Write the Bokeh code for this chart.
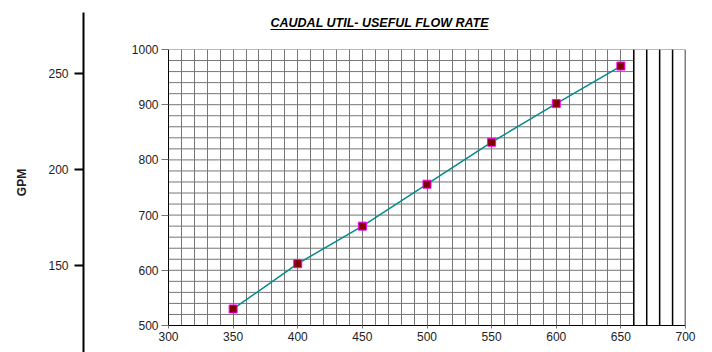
from bokeh.plotting import figure
from bokeh.models import Range1d, LinearAxis, FixedTicker, SingleIntervalTicker, Title
from bokeh.layouts import row
from bokeh.embed import file_html
from bokeh.resources import INLINE

# ---- data ----
speed = [350, 400, 450, 500, 550, 600, 650]
flow = [530, 612, 680, 756, 832, 902, 970]
x_ticks = [300, 350, 400, 450, 500, 550, 600, 650, 700]
y_ticks = [500, 600, 700, 800, 900, 1000]
gpm_ticks = [150, 200, 250]
h_grid = [520, 540, 560, 580, 600, 620, 640, 660, 680, 700, 720, 740, 760,
          780, 800, 820, 840, 860, 880, 900, 920, 940, 960, 980]
black_v = [660, 670, 680, 690, 700]
title_text = "CAUDAL UTIL- USEFUL FLOW RATE"

FONT = "Liberation Sans"
GRID = "#767676"

# ---- left GPM axis figure ----
left = figure(width=120, height=352, x_range=Range1d(0, 1), y_range=Range1d(104.7, 281.8),
              x_axis_type=None, y_axis_type=None, toolbar_location=None,
              output_backend="svg", min_border_left=83, min_border_right=0,
              min_border_top=12, min_border_bottom=0, outline_line_color=None)
left.frame_align = False
gax = LinearAxis(ticker=FixedTicker(ticks=gpm_ticks), axis_label="GPM")
gax.axis_line_width = 2
gax.axis_line_color = "black"
gax.major_tick_line_width = 2
gax.major_tick_line_color = "black"
gax.major_tick_out = 9
gax.major_tick_in = 0
gax.minor_tick_line_color = None
gax.major_label_standoff = 6
gax.major_label_text_font = FONT
gax.major_label_text_font_size = "12px"
gax.major_label_text_color = "#222"
gax.axis_label_text_font = FONT
gax.axis_label_text_font_size = "12px"
gax.axis_label_text_font_style = "bold"
gax.axis_label_text_color = "#222"
gax.axis_label_standoff = 16
left.add_layout(gax, "left")

# ---- main figure ----
p = figure(width=592, height=352, x_range=Range1d(300, 700), y_range=Range1d(500, 1000),
           toolbar_location=None, output_backend="svg", title=None,
           min_border_left=48, min_border_right=27, min_border_top=49, min_border_bottom=27,
           outline_line_color=None)
p.frame_align = False

p.xaxis.ticker = FixedTicker(ticks=x_ticks)
p.yaxis.ticker = FixedTicker(ticks=y_ticks)
for ax in (p.xaxis, p.yaxis):
    ax.axis_line_color = "black"
    ax.axis_line_width = 1
    ax.major_tick_in = 0
    ax.major_tick_line_color = "#777"
    ax.minor_tick_line_color = None
    ax.major_label_text_font = FONT
    ax.major_label_text_font_size = "12px"
    ax.major_label_text_color = "#222"
p.xaxis.major_tick_out = 3
p.xaxis.major_label_standoff = 3
p.yaxis.major_tick_out = 7
p.yaxis.major_label_standoff = 3

p.xgrid.ticker = SingleIntervalTicker(interval=10)
p.xgrid.grid_line_color = GRID
p.ygrid.grid_line_color = None

# horizontal grid lines (stop at 660)
p.segment(x0=[x_ticks[0]] * len(h_grid), x1=[black_v[0]] * len(h_grid),
          y0=h_grid, y1=h_grid, line_color=GRID, line_width=1)
# top border line
p.segment(x0=[x_ticks[0]], x1=[x_ticks[-1]], y0=[y_ticks[-1]], y1=[y_ticks[-1]],
          line_color=GRID, line_width=1)
# black vertical lines on the right
p.segment(x0=black_v, x1=black_v, y0=[y_ticks[0]] * len(black_v), y1=[y_ticks[-1]] * len(black_v),
          line_color="black", line_width=1.5)

# data
p.line(speed, flow, line_color="#008b8b", line_width=1.5)
p.scatter(speed, flow, marker="square", size=8, fill_color="#800000",
          line_color="#ff00ff", line_width=1)

# title above an underline made from a bounded, tick-less axis
spacer = LinearAxis(ticker=FixedTicker(ticks=[500]), axis_line_color=None,
                    major_tick_out=20, major_tick_in=0, major_label_standoff=0,
                    major_tick_line_color=None, minor_tick_line_color=None,
                    major_label_text_color=None, major_label_text_font_size="1px")
underline = LinearAxis(ticker=FixedTicker(ticks=[460]), bounds=(378.9, 547.6),
                       axis_line_color="black", axis_line_width=1,
                       major_tick_out=0, major_tick_in=0, major_label_standoff=0,
                       major_tick_line_color=None, minor_tick_line_color=None,
                       major_label_text_color=None, major_label_text_font_size="1px")
title = Title(text=title_text, align="left", offset=102, standoff=0,
              text_font=FONT, text_font_size="12.5px", text_font_style="bold italic",
              text_color="black")
p.add_layout(spacer, "above")
p.add_layout(underline, "above")
p.add_layout(title, "above")

layout = row(left, p)
open("out.html", "w").write(file_html(layout, INLINE))
